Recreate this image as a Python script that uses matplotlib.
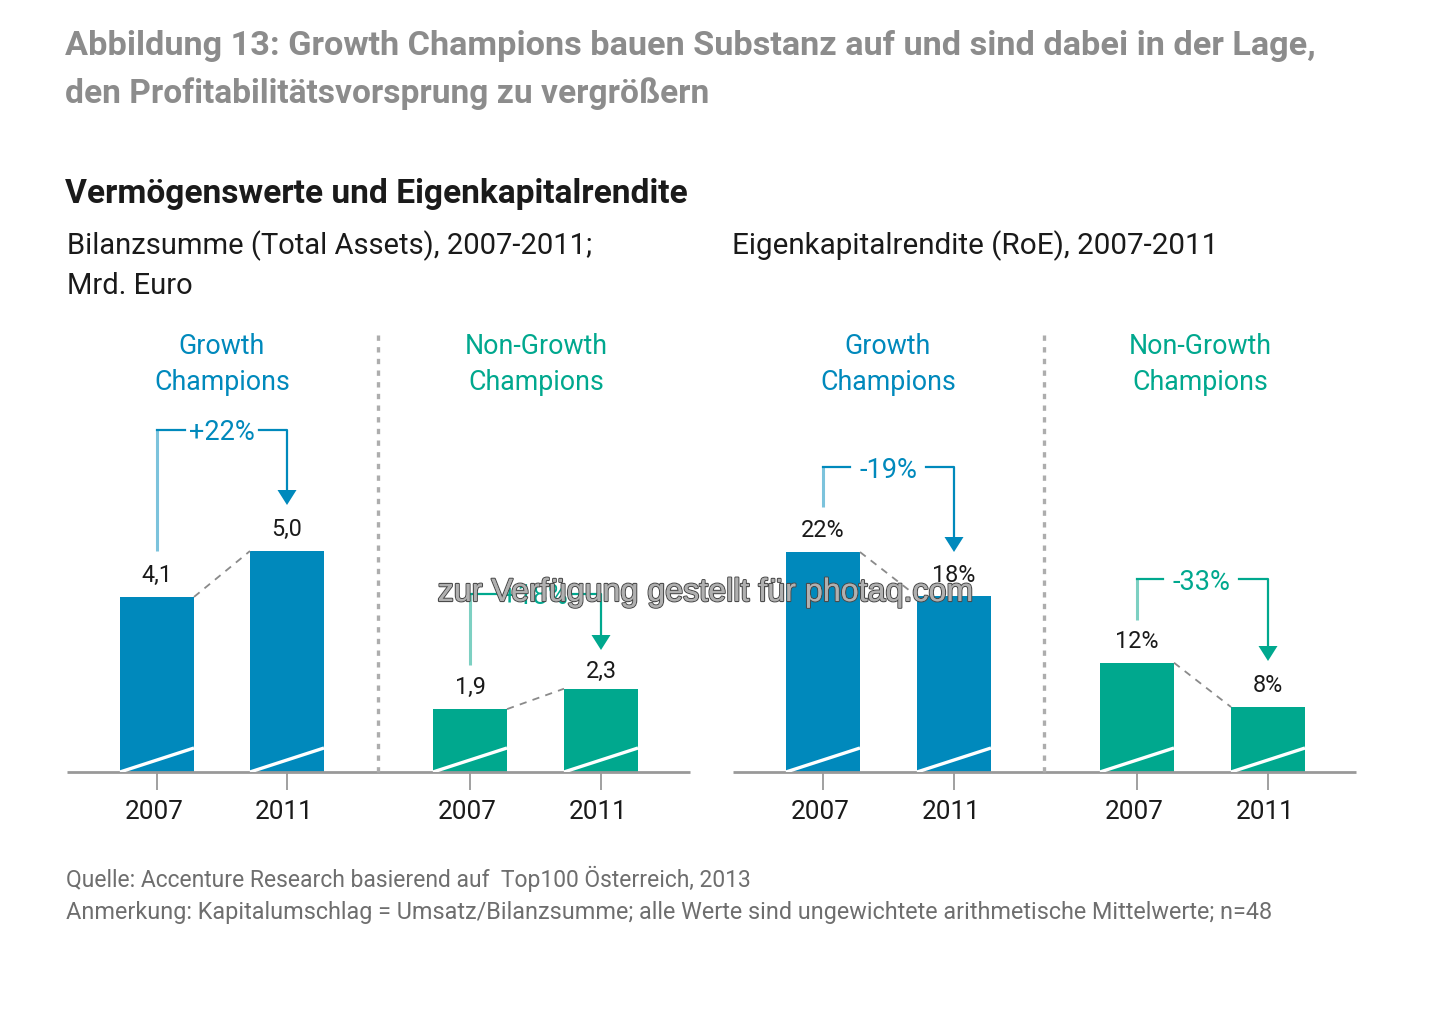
import matplotlib
matplotlib.use("Agg")
import matplotlib.pyplot as plt
import matplotlib.patheffects as pe
from matplotlib.transforms import blended_transform_factory, Affine2D

years = ["2007", "2011"]
assets_growth = [4.1, 5.0]
assets_non_growth = [1.9, 2.3]
roe_growth = [22, 18]
roe_non_growth = [12, 8]
assets_labels = [["4,1", "5,0"], ["1,9", "2,3"]]
roe_labels = [["22%", "18%"], ["12%", "8%"]]
assets_changes = ["+22%", "+18%"]
roe_changes = ["-19%", "-33%"]
group_names = ["Growth\nChampions", "Non-Growth\nChampions"]

BLUE = "#0089BC"
GREEN = "#00A88E"
LBLUE = "#7CC3DC"
LGREEN = "#7DD0C2"
GREY = "#999999"
W, H = 1440, 1027
plt.rcParams["font.family"] = ["Roboto", "DejaVu Sans"]

fig = plt.figure(figsize=(W / 100, H / 100), dpi=100, facecolor="white")


def make_axes(x0, x1, ybase, ytop):
    return fig.add_axes([x0 / W, 1 - ybase / H, (x1 - x0) / W, (ybase - ytop) / H])


BASE = 772
TOP = 330
left = make_axes(67, 690, BASE, TOP)
right = make_axes(733, 1356, BASE, TOP)
# broken value axes: bars do not start at zero, as the slash in every bar says
left.set_ylim(0.667, 0.667 + (BASE - TOP) / 51.0)
right.set_ylim(2.13, 2.13 + (BASE - TOP) / 11.07)


def slash_transform(ax):
    sc = Affine2D().scale(1, 24 / H).translate(0, 1 - BASE / H)
    return blended_transform_factory(ax.transData, sc + fig.transFigure)


def panel(ax, x0, groups, labels, centres):
    ax.set_xlim(x0, x0 + 623)
    ticks = []
    ticklabels = []
    for vals, labs, col, (ca, cb) in zip(groups, labels, (BLUE, GREEN), centres):
        ax.bar([ca, cb], vals, width=74, color=col, linewidth=0)
        ax.plot([ca + 37, cb - 37], vals, color="#8a8a8a", lw=1.3,
                dashes=(4, 3.5), zorder=1)
        for c, v, t in zip((ca, cb), vals, labs):
            lift = 4 if t == "2,3" else 7
            ax.annotate(t, (c, v), xytext=(0, lift), textcoords="offset points",
                        ha="center", va="bottom", fontsize=16.8, color="#1a1a1a")
            ax.plot([c - 37, c + 37], [0, 1], transform=slash_transform(ax),
                    color="white", lw=2.4, solid_capstyle="butt", zorder=3)
        ticks += [ca, cb]
        ticklabels += years
    # visible tick marks on the bar centres, labels slightly left of them
    ax.set_xticks(ticks)
    ax.set_xticklabels([""] * len(ticks))
    ax.set_xticks([t - 3 for t in ticks], ticklabels, minor=True,
                  fontsize=18.8, color="#1a1a1a")
    ax.tick_params(axis="x", which="major", length=13, width=1.3, color=GREY, pad=6)
    ax.tick_params(axis="x", which="minor", length=13, width=0, pad=7)
    ax.set_yticks([])
    for s in ("top", "left", "right"):
        ax.spines[s].set_visible(False)
    ax.spines["bottom"].set_color(GREY)
    ax.spines["bottom"].set_linewidth(2)
    ax.spines["bottom"].set_capstyle("butt")
    ax.patch.set_alpha(0)


panel(left, 67, [assets_growth, assets_non_growth], assets_labels,
      [(157, 287), (470, 601)])
panel(right, 733, [roe_growth, roe_non_growth], roe_labels,
      [(823, 954), (1137, 1268)])

# overlay in pixel space for headings, brackets and the watermark
ov = fig.add_axes([0, 0, 1, 1], zorder=5)
ov.set_xlim(0, W)
ov.set_ylim(H, 0)
ov.axis("off")
ov.patch.set_alpha(0)

ov.text(65, 46, "Abbildung 13: Growth Champions bauen Substanz auf und sind dabei in der Lage,",
        fontsize=24.7, fontweight="bold", color="#8c8c8c", va="center")
ov.text(65, 94, "den Profitabilitätsvorsprung zu vergrößern",
        fontsize=24.1, fontweight="bold", color="#8c8c8c", va="center")
ov.text(65, 194, "Vermögenswerte und Eigenkapitalrendite", fontsize=24.1,
        fontweight="bold", color="#1a1a1a", va="center")
ov.text(67, 246, "Bilanzsumme (Total Assets), 2007-2011;", fontsize=21, color="#1a1a1a", va="center")
ov.text(67, 286, "Mrd. Euro", fontsize=21, color="#1a1a1a", va="center")
ov.text(732, 246, "Eigenkapitalrendite (RoE), 2007-2011", fontsize=21.3, color="#1a1a1a", va="center")
ov.text(66, 879, "Quelle: Accenture Research basierend auf  Top100 Österreich, 2013",
        fontsize=16.5, color="#6e6e6e", va="center")
ov.text(66, 913, "Anmerkung: Kapitalumschlag = Umsatz/Bilanzsumme; alle Werte sind ungewichtete arithmetische Mittelwerte; n=48",
        fontsize=16.85, color="#6e6e6e", va="center")

for cx, name, col in zip((222, 536, 888, 1200), group_names * 2, (BLUE, GREEN, BLUE, GREEN)):
    for i, line in enumerate(name.split("\n")):
        ov.text(cx, 346 + 36 * i, line, fontsize=19.3, color=col, ha="center", va="center")

for x in (378, 1044):
    ov.plot([x, x], [335, 772], color="#adadad", lw=2.4, dashes=(1.6, 1.9))


def bracket(xa, xb, ytop, yleft, ytip, text, dark, light, tx, gap):
    ov.plot([xa, xa], [ytop, yleft], color=light, lw=2.2, solid_capstyle="butt")
    ov.plot([xa, tx - gap], [ytop, ytop], color=dark, lw=1.6)
    ov.plot([tx + gap, xb, xb], [ytop, ytop, ytip - 14], color=dark, lw=1.6)
    ov.fill([xb - 9.5, xb + 9.5, xb], [ytip - 15, ytip - 15, ytip], color=dark, lw=0)
    ov.text(tx, ytop + 3, text, fontsize=19.5, color=dark, ha="center", va="center")


bracket(157, 287, 430, 551, 505, assets_changes[0], BLUE, LBLUE, 222, 37)
bracket(470, 601, 594, 665, 650, assets_changes[1], GREEN, LGREEN, 535, 37)
bracket(823, 954, 467, 507, 552, roe_changes[0], BLUE, LBLUE, 888, 38)
bracket(1137, 1268, 579, 620, 661, roe_changes[1], GREEN, LGREEN, 1201, 38)

ov.text(706, 593, "zur Verfügung gestellt für photaq.com", fontsize=23.2,
        family="Liberation Sans", color="#b0b0b0", ha="center", va="center", zorder=10,
        path_effects=[pe.withStroke(linewidth=1.6, foreground="#4a4a4a"),
                      pe.Normal()])

fig.savefig("out.png", dpi=100)
